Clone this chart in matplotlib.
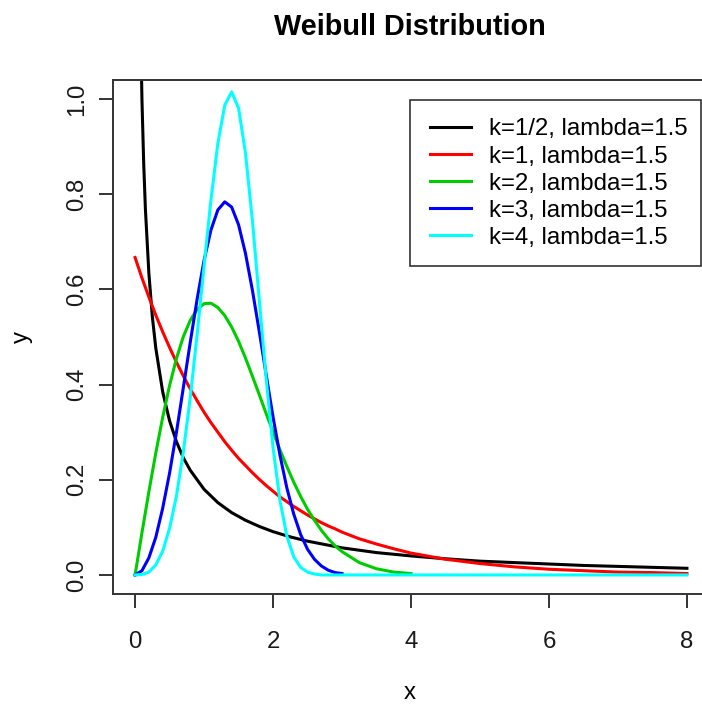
import matplotlib
matplotlib.use("Agg")
import matplotlib.pyplot as plt
from matplotlib.patches import Rectangle

plt.rcParams['font.family'] = ['Liberation Sans', 'DejaVu Sans']

# values (lambda = 1.5)
x_grid = [0.0, 0.1, 0.2, 0.3, 0.4, 0.5, 0.6, 0.7, 0.8, 0.9,
          1.0, 1.1, 1.2, 1.3, 1.4, 1.5, 1.6, 1.7, 1.8, 1.9,
          2.0, 2.1, 2.2, 2.3, 2.4, 2.5, 2.6, 2.7, 2.8, 2.9,
          3.0, 3.25, 3.5, 3.75, 4.0, 4.5, 5.0, 5.5, 6.0, 6.5,
          7.0, 7.5, 8.0]

x_half = [0.05, 0.075, 0.1, 0.125, 0.15, 0.2, 0.25, 0.3, 0.4, 0.5,
          0.6, 0.7, 0.8, 1.0, 1.2, 1.4, 1.6, 1.8, 2.0, 2.25,
          2.5, 2.75, 3.0, 3.5, 4.0, 4.5, 5.0, 5.5, 6.0, 6.5,
          7.0, 7.5, 8.0]
y_half = [1.521, 1.192, 0.997, 0.865, 0.768, 0.634, 0.543, 0.477, 0.385, 0.324,
          0.280, 0.246, 0.220, 0.180, 0.152, 0.131, 0.115, 0.102, 0.091, 0.080,
          0.071, 0.064, 0.057, 0.047, 0.040, 0.034, 0.029, 0.026, 0.023, 0.020,
          0.018, 0.016, 0.014]

y_k1 = [0.667, 0.624, 0.584, 0.546, 0.511, 0.478, 0.447, 0.418, 0.391, 0.366,
        0.342, 0.320, 0.300, 0.280, 0.262, 0.245, 0.230, 0.215, 0.201, 0.188,
        0.176, 0.164, 0.154, 0.144, 0.135, 0.126, 0.118, 0.110, 0.103, 0.097,
        0.090, 0.076, 0.065, 0.055, 0.046, 0.033, 0.024, 0.017, 0.012, 0.009,
        0.006, 0.005, 0.003]

y_k2 = [0.0, 0.089, 0.175, 0.256, 0.331, 0.398, 0.455, 0.501, 0.535, 0.558,
        0.570, 0.571, 0.562, 0.545, 0.521, 0.491, 0.456, 0.418, 0.379, 0.339,
        0.301, 0.263, 0.228, 0.195, 0.165, 0.138, 0.115, 0.094, 0.076, 0.061,
        0.049, 0.026, 0.013, 0.006, 0.003]

y_k3 = [0.0, 0.009, 0.036, 0.079, 0.140, 0.214, 0.300, 0.394, 0.489, 0.580,
        0.661, 0.725, 0.767, 0.784, 0.773, 0.736, 0.676, 0.599, 0.512, 0.421,
        0.332, 0.252, 0.183, 0.128, 0.085, 0.054, 0.033, 0.019, 0.010, 0.005,
        0.003]

y_k4 = [0.0, 0.001, 0.006, 0.021, 0.050, 0.098, 0.166, 0.259, 0.373, 0.506,
        0.649, 0.788, 0.907, 0.987, 1.015, 0.981, 0.887, 0.746, 0.579, 0.413,
        0.268, 0.157, 0.082, 0.038, 0.016, 0.006, 0.002, 0.0, 0.0, 0.0,
        0.0, 0.0, 0.0, 0.0, 0.0, 0.0, 0.0, 0.0, 0.0, 0.0,
        0.0, 0.0, 0.0]

labels = ["k=1/2, lambda=1.5", "k=1, lambda=1.5", "k=2, lambda=1.5",
          "k=3, lambda=1.5", "k=4, lambda=1.5"]
colors = ["black", "#FF0000", "#00CD00", "#0000FF", "#00FFFF"]

x_ticks = [0, 2, 4, 6, 8]
y_ticks = [0.0, 0.2, 0.4, 0.6, 0.8, 1.0]
y_ticklabels = ["0.0", "0.2", "0.4", "0.6", "0.8", "1.0"]

W, H = 702, 705
fig = plt.figure(figsize=(W / 100, H / 100), dpi=100)
# plot box runs past the right edge, like the cropped original
ax = fig.add_axes([113 / W, 1 - 594 / H, 596 / W, 514 / H])

series = [(x_half, y_half), (x_grid, y_k1), (x_grid, y_k2),
          (x_grid, y_k3), (x_grid, y_k4)]
for (xs, ys), c, lab in zip(series, colors, labels):
    ax.plot(xs[:len(ys)], ys, color=c, lw=2.2, label=lab)

ax.set_xlim(-0.32, 8.32)
ax.set_ylim(-0.04, 1.04)
ax.set_xticks(x_ticks)
ax.set_xticklabels([str(t) for t in x_ticks])
ax.set_yticks(y_ticks)
ax.set_yticklabels(y_ticklabels, rotation=90, va='center')

fs = 17.3
edge = '#333333'
for sp in ax.spines.values():
    sp.set_color(edge)
    sp.set_linewidth(1.4)
ax.spines['right'].set_visible(False)
ax.tick_params(axis='both', direction='out', length=10, width=1.4,
               color=edge, labelsize=fs, labelcolor='#1a1a1a')
ax.tick_params(axis='x', pad=17)
ax.tick_params(axis='y', pad=8)

fig.text(410 / W, 1 - 35 / H, "Weibull Distribution", ha='center',
         va='baseline', fontsize=fs * 1.2, fontweight='bold')
fig.text(410 / W, 1 - 693 / H, "x", ha='center', va='center', fontsize=fs)
fig.text(22 / W, 1 - 337 / H, "y", ha='center', va='center', fontsize=fs,
         rotation=90)

# legend entries, frame drawn separately (R-style uneven padding)
leg = ax.legend(loc='upper left', bbox_to_anchor=(430 / W, 1 - 118.5 / H),
                bbox_transform=fig.transFigure, borderaxespad=0,
                frameon=False, fontsize=fs, handlelength=1.7,
                handletextpad=0.75, labelspacing=0.21, borderpad=0)
fig.patches.append(Rectangle((410 / W, 1 - 266 / H), 291 / W, 166 / H,
                             transform=fig.transFigure, fill=False,
                             edgecolor='#222222', lw=1.1))

fig.savefig("out.png", dpi=100)
